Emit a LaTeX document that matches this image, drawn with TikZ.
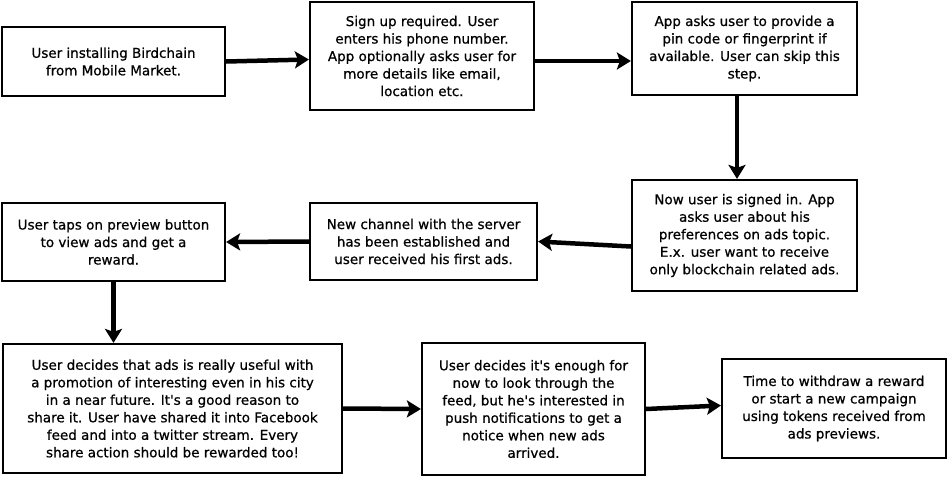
\documentclass[tikz,border=0pt]{standalone}
\usepackage{fontspec}
\newfontfamily\boxfont{DejaVu Sans}[FakeBold=0.7]
\usetikzlibrary{arrows.meta}
\tikzset{
  box/.style={draw=black, line width=2.2pt, fill=white, inner sep=0pt, align=center,
    font=\boxfont\fontsize{13.5}{17.5}\selectfont, text=black},
  arr/.style={line width=4.5pt, -{Stealth[length=14pt, width=17pt, inset=3pt]}},
}
\begin{document}
\begin{tikzpicture}[x=1pt, y=-1pt]
\useasboundingbox (0,0) rectangle (948,477);
\node[box, minimum width=223pt, minimum height=69pt] (b1) at (113.5,61.5)
  {User installing Birdchain\\from Mobile Market.};
\node[box, minimum width=224pt, minimum height=108pt] (b2) at (422,56)
  {Sign up required. User\\enters his phone number.\\App optionally asks user for\\more details like email,\\location etc.};
\node[box, minimum width=225pt, minimum height=93pt] (b3) at (744.5,48.5)
  {App asks user to provide a\\pin code or fingerprint if\\available. User can skip this\\step.};
\node[box, minimum width=225pt, minimum height=111pt] (b4) at (744.5,235.5)
  {Now user is signed in. App\\asks user about his\\preferences on ads topic.\\E.x. user want to receive\\only blockchain related ads.};
\node[box, minimum width=227pt, minimum height=77pt] (b5) at (423.5,241.5)
  {New channel with the server\\has been established and\\user received his first ads.};
\node[box, minimum width=223pt, minimum height=78pt] (b6) at (113.5,242)
  {User taps on preview button\\to view ads and get a\\reward.};
\node[box, minimum width=339pt, minimum height=129pt] (b7) at (172.5,408.5)
  {User decides that ads is really useful with\\a promotion of interesting even in his city\\in a near future. It's a good reason to\\share it. User have shared it into Facebook\\feed and into a twitter stream. Every\\share action should be rewarded too!};
\node[box, minimum width=223pt, minimum height=132pt] (b8) at (533.5,409)
  {User decides it's enough for\\now to look through the\\feed, but he's interested in\\push notifications to get a\\notice when new ads\\arrived.};
\node[box, minimum width=224pt, minimum height=99pt] (b9) at (834,408.5)
  {Time to withdraw a reward\\or start a new campaign\\using tokens received from\\ads previews.};
\draw[arr] (b1.east) -- ([yshift=2pt]b2.west |- b1.east);
\draw[arr] ([yshift=-5pt]b2.east) -- ([yshift=-5pt]b2.east -| b3.west);
\draw[arr] ([xshift=-7.5pt]b3.south) -- ([xshift=-7.5pt]b3.south |- b4.north);
\draw[arr] ([yshift=-11pt]b4.west) -- (b5.east);
\draw[arr] (b5.west) -- (b6.east);
\draw[arr] (b6.south) -- (b6.south |- b7.north);
\draw[arr] (b7.east) -- (b8.west);
\draw[arr] (b8.east) -- ([yshift=3pt]b9.west);
\end{tikzpicture}
\end{document}
